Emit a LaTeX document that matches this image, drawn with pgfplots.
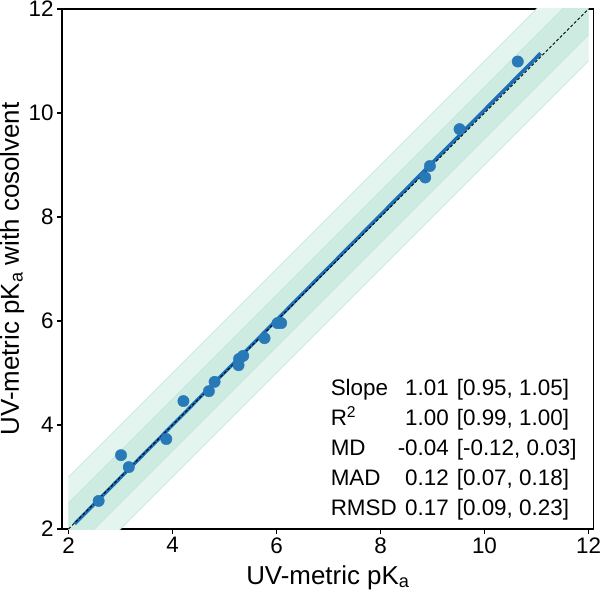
\documentclass[border=0pt]{standalone}
\usepackage{fontspec}
\setmainfont{Liberation Sans}
\usepackage{pgfplots}
\usepackage{pgfplotstable}
\pgfplotsset{compat=1.18}
\definecolor{lightband}{RGB}{228,244,239}
\definecolor{darkband}{RGB}{205,235,225}
\definecolor{bandedge}{RGB}{192,229,215}
\definecolor{ptblue}{RGB}{40,121,184}
\definecolor{lineblue}{RGB}{28,110,183}
\pgfplotstableread{
x y
2.58 2.54
3.01 3.42
3.16 3.19
3.88 3.73
4.21 4.46
4.70 4.65
4.81 4.83
5.27 5.15
5.28 5.27
5.36 5.33
5.77 5.67
6.02 5.96
6.09 5.96
8.86 8.76
8.95 8.98
9.52 9.69
10.64 10.99
}\pts
\begin{document}
\begin{tikzpicture}
\begin{axis}[
  scale only axis, width=531.7bp, height=520bp,
  xmin=1.875, xmax=12.1, ymin=2, ymax=12,
  xtick={2,4,...,12}, ytick={2,4,...,12},
  tick align=outside, xtick pos=bottom, ytick pos=left,
  major tick length=5bp,
  axis line style={line width=1.1bp},
  tick style={line width=1.1bp, black},
  /pgf/number format/assume math mode=true,
  tick label style={font=\fontsize{22.5}{26}\selectfont},
  label style={font=\fontsize{26}{30}\selectfont},
  xlabel={UV-metric pK\textsubscript{a}},
  ylabel={UV-metric pK\textsubscript{a} with cosolvent},
  xlabel style={at={(axis description cs:0.5,-0.093)}, anchor=center},
  ylabel style={at={(axis description cs:-0.0935,0.5)}, anchor=center},
]
\addplot[fill=lightband, draw=none] coordinates {(2,1) (2,3) (12,13) (12,11)} -- cycle;
\addplot[fill=darkband, draw=none] coordinates {(2,1.5) (2,2.5) (12,12.5) (12,11.5)} -- cycle;
\addplot[bandedge, line width=0.7bp] coordinates {(2,3) (12,13)};
\addplot[bandedge, line width=0.7bp] coordinates {(2,1) (12,11)};
\addplot[bandedge, line width=0.7bp] coordinates {(2,2.5) (12,12.5)};
\addplot[bandedge, line width=0.7bp] coordinates {(2,1.5) (12,11.5)};
\addplot[lineblue, line width=3.4bp] coordinates {(2.12,2.10) (11.08,11.15)};
\addplot[black, line width=0.8bp, dash pattern=on 3bp off 2bp] coordinates {(2,2) (12,12)};
\addplot[only marks, mark=*, mark size=5.7bp, color=ptblue, mark options={draw=none, fill=ptblue}] table[x=x,y=y] {\pts};
\node[anchor=west, inner sep=0pt, font=\fontsize{22.5}{30.3}\selectfont] at (axis cs:7.04,3.53)
 {\begin{tabular}{@{}l@{\hspace{1bp}}r@{\hspace{8bp}}l@{}}
 Slope & 1.01 & [0.95, 1.05]\\
 R\textsuperscript{2} & 1.00 & [0.99, 1.00]\\
 MD & -0.04 & [-0.12, 0.03]\\
 MAD & 0.12 & [0.07, 0.18]\\
 RMSD & 0.17 & [0.09, 0.23]
 \end{tabular}};
\end{axis}
\pgfresetboundingbox
\path[use as bounding box] ([xshift=-62bp,yshift=-63bp]current axis.south west) rectangle ([xshift=6.3bp,yshift=9bp]current axis.north east);
\end{tikzpicture}
\end{document}
